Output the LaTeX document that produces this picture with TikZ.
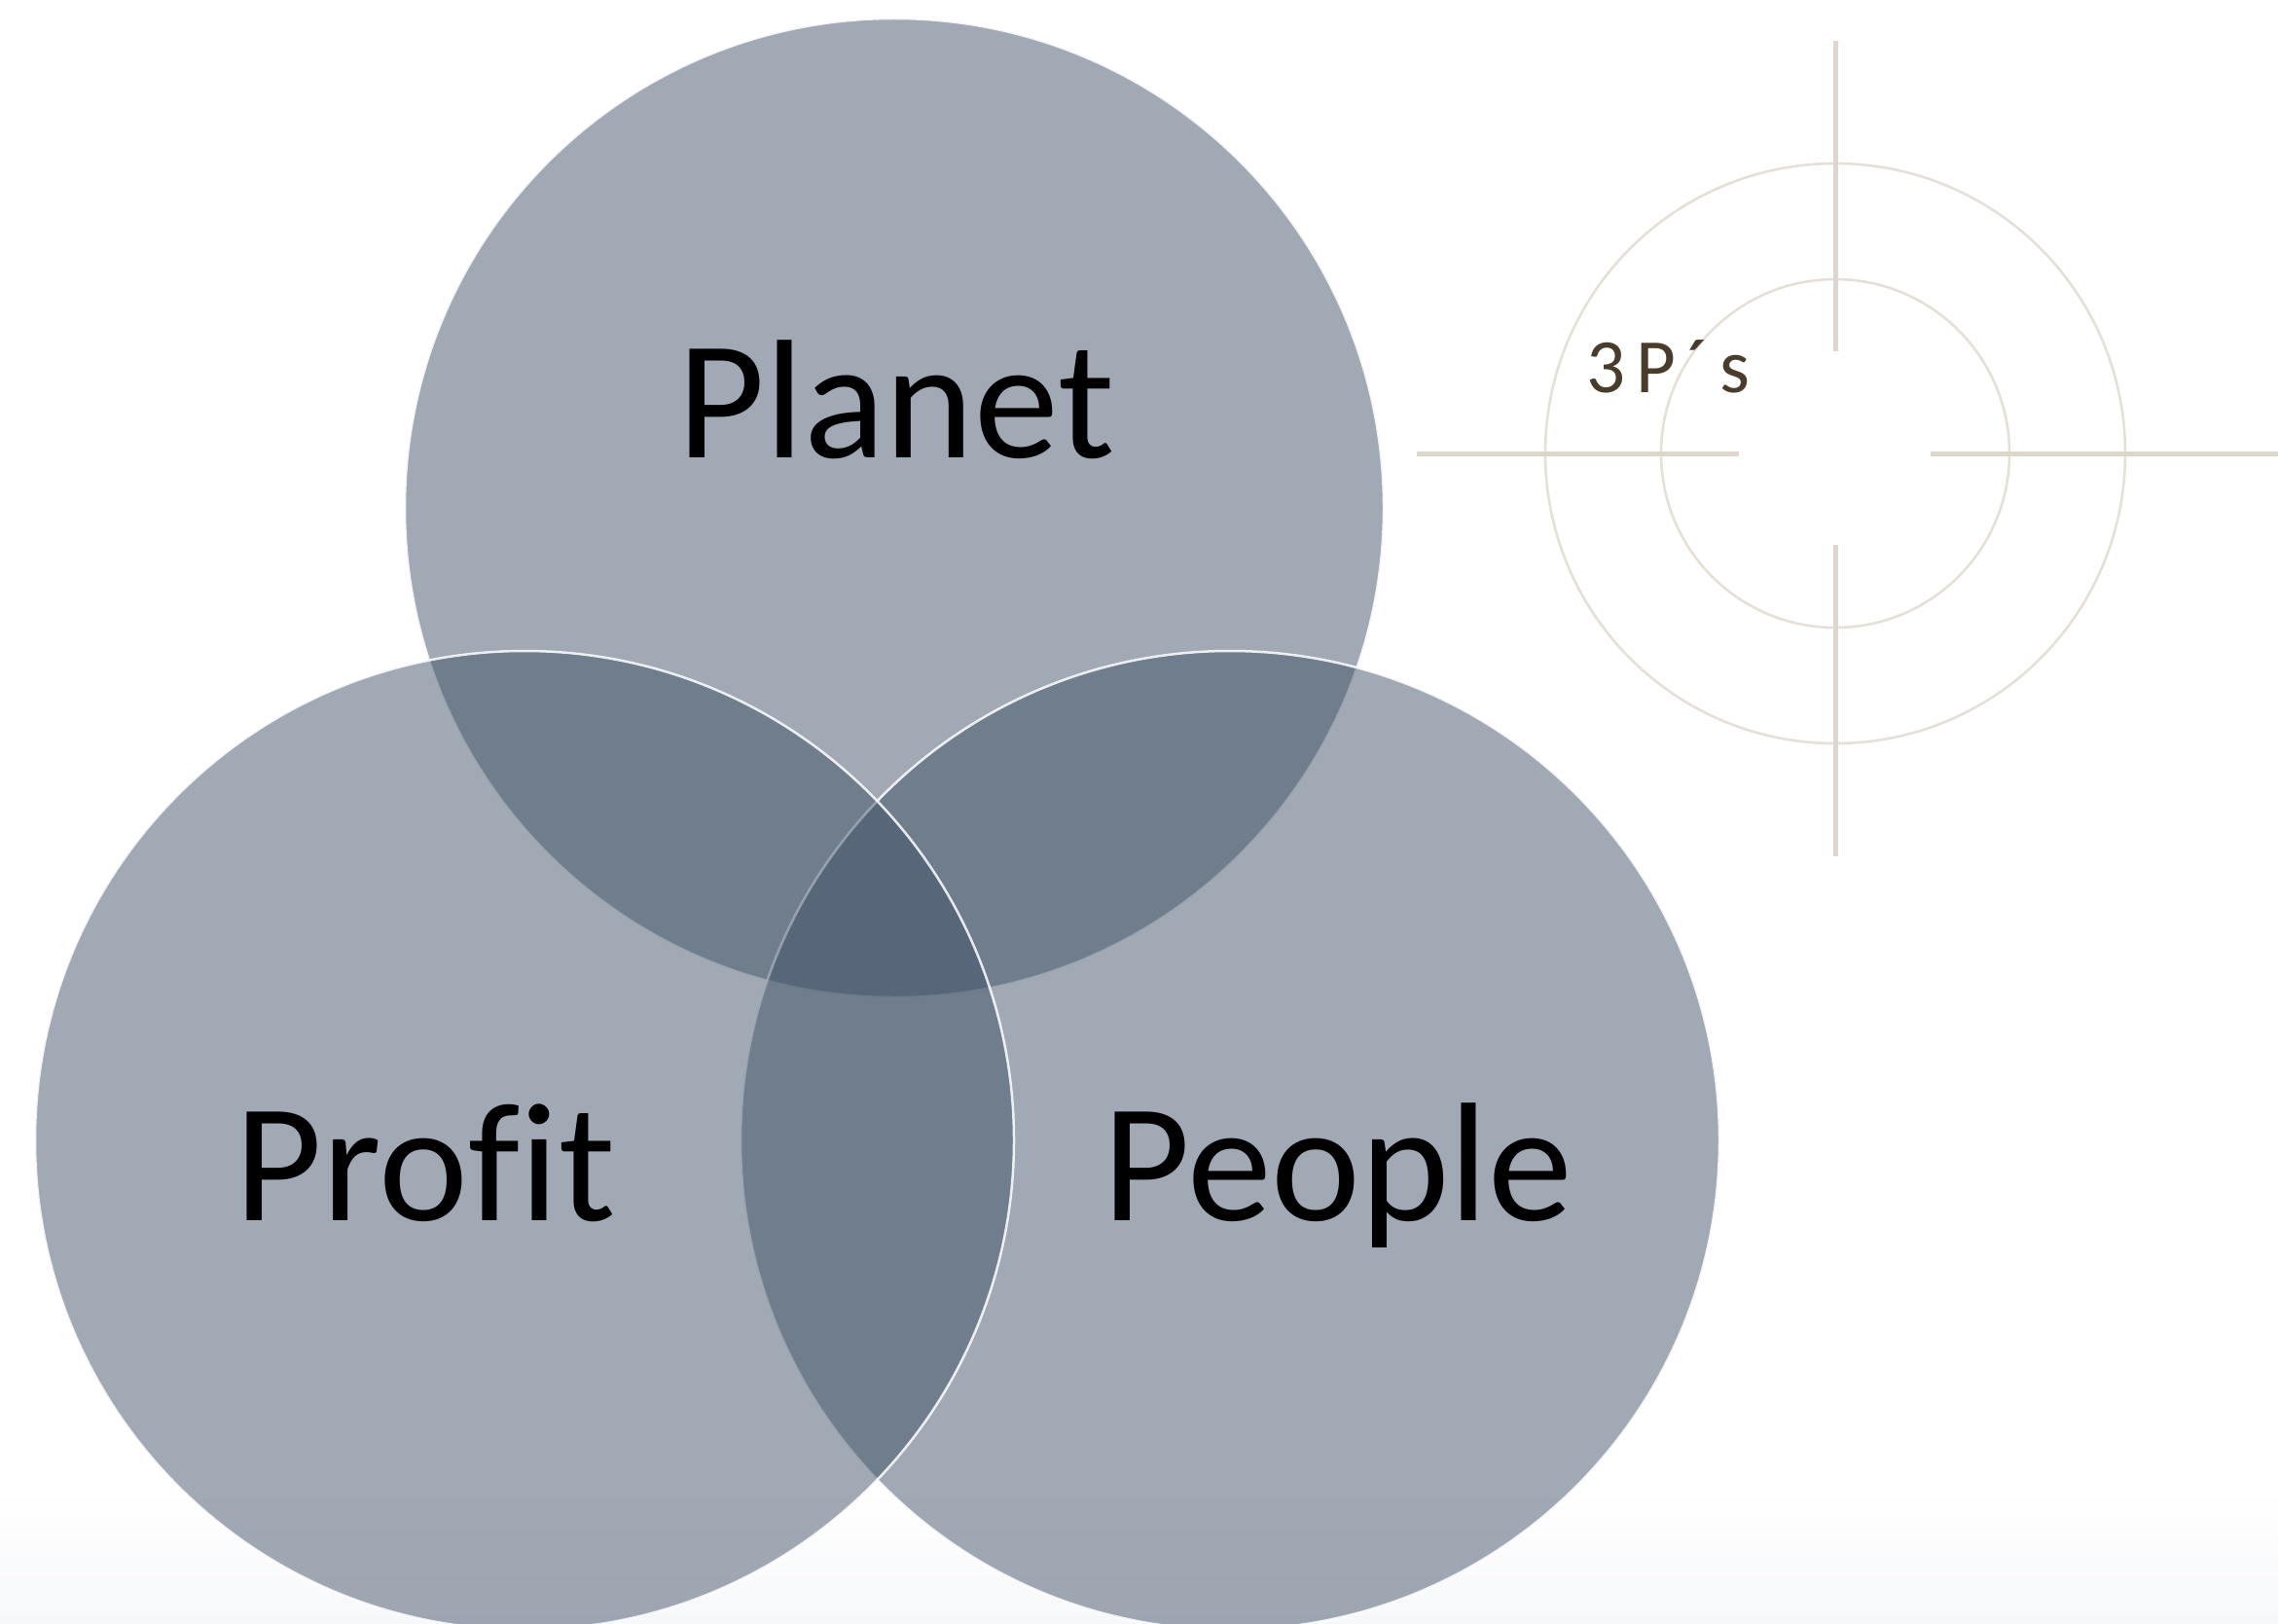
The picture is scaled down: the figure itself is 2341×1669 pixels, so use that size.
\documentclass[tikz,border=0pt]{standalone}
\usepackage{fontspec}
\setmainfont{Carlito}[Ligatures=NoCommon]
\definecolor{vennfill}{RGB}{63,80,102}
\definecolor{crossline}{RGB}{221,214,204}
\definecolor{crossring}{RGB}{228,223,215}
\definecolor{tagtext}{RGB}{74,60,42}
\definecolor{bgtint}{RGB}{247,248,250}
\tikzset{
  vennset/.style={circle, inner sep=0pt, outer sep=0pt, minimum size=1006pt,
    fill=vennfill, fill opacity=0.49, draw=white, draw opacity=0.85, line width=2.5pt},
  ringshape/.style={circle, inner sep=0pt, outer sep=0pt, draw=crossring, line width=2.5pt},
  hair/.style={draw=crossline, line width=5pt},
  biglabel/.style={font=\fontsize{174}{200}\selectfont, text=black, anchor=base, inner sep=0pt},
  taglabel/.style={font=\fontsize{79}{90}\selectfont\addfontfeature{LetterSpace=14}, text=tagtext, anchor=base west, inner sep=0pt}
}
\begin{document}
\begin{tikzpicture}[x=1pt, y=-1pt]
  % canvas
  \fill[white] (0,0) rectangle (2341,1669);
  \shade[top color=white, bottom color=bgtint] (0,1530) rectangle (2341,1669);
  \useasboundingbox (0,0) rectangle (2341,1669);

  % Venn circles
  \node[vennset] (planetc) at (919,522) {};
  \node[vennset] (peoplec) at (1264,1172) {};
  \node[vennset] (profitc) at (539,1172) {};

  % labels
  \node[biglabel] (planet) at (921,470) {Planet};
  \node[biglabel] (profit) at (437,1254) {Profit};
  \node[biglabel] (people) at (1375,1254) {People};

  % crosshair
  \coordinate (ch) at (1886,466);
  \node[ringshape, minimum size=596pt] (outerring) at (ch) {};
  \node[ringshape, minimum size=358pt] (innerring) at (ch) {};
  \coordinate (h1) at (1456,466);
  \coordinate (h2) at (1787,466);
  \coordinate (h3) at (1984,466);
  \coordinate (h4) at (2341,466);
  \coordinate (v1) at (1886,42);
  \coordinate (v2) at (1886,361);
  \coordinate (v3) at (1886,560);
  \coordinate (v4) at (1886,880);
  \draw[hair] (h1) -- (h2);
  \draw[hair] (h3) -- (h4);
  \draw[hair] (v1) -- (v2);
  \draw[hair] (v3) -- (v4);
  \node[taglabel] (tag) at (1630,403) {3P´s};
\end{tikzpicture}
\end{document}
